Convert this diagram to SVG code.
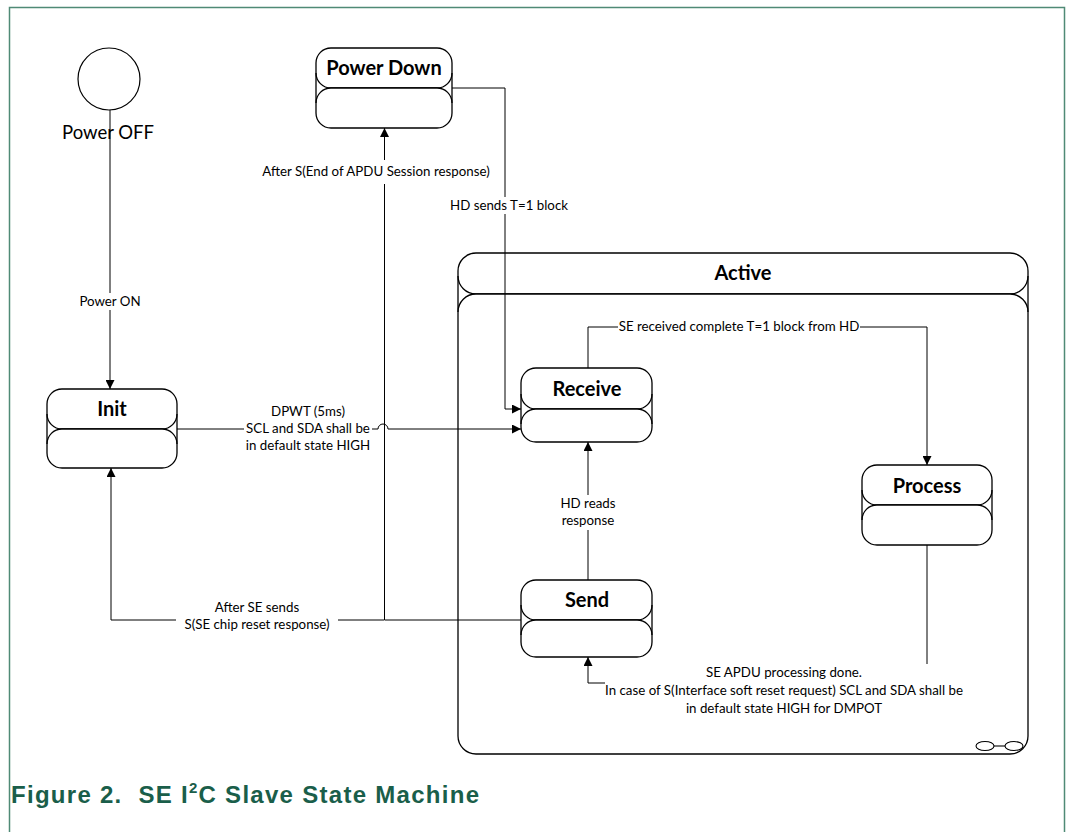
<svg xmlns="http://www.w3.org/2000/svg" width="1068" height="832" viewBox="0 0 1068 832">
<style>
.st{fill:#fff;stroke:#000;stroke-width:1.3}
.side{stroke:#000;stroke-width:1.3;fill:none}
.ttl{font-family:Lato,"Liberation Sans",sans-serif;font-weight:bold;font-size:20px;text-anchor:middle;fill:#000}
.c{fill:none;stroke:#000;stroke-width:1}
.lbl{font-family:Lato,"Liberation Sans",sans-serif;font-size:13.3px;text-anchor:middle;fill:#000}
.bg{fill:#fff;stroke:none}
</style>
<defs>
<marker id="ah" markerUnits="userSpaceOnUse" markerWidth="10" markerHeight="9" refX="9" refY="4.5" orient="auto">
<path d="M0,0 L9,4.5 L0,9 z" fill="#000"/>
</marker>
</defs>
<rect x="0" y="0" width="1068" height="832" fill="#fff"/>
<g id="frame">
<path d="M9.5,832 V7.5 H1064.5 V832" fill="none" stroke="#4f8a76" stroke-width="1.5"/>
</g>
<g id="powerOff">
<circle cx="109" cy="79" r="31" fill="#fff" stroke="#000" stroke-width="1.2"/>
<text x="108" y="139" style="font-family:Lato,'Liberation Sans',sans-serif;font-size:18.5px;text-anchor:middle">Power OFF</text>
</g>
<g id="active">
<rect class="st" x="458" y="253" width="570" height="41" rx="18"/>
<rect class="st" x="458" y="294" width="570" height="460" rx="18"/>
<path class="side" d="M458,276 V312 M1028,276 V312"/>
<text class="ttl" x="743" y="280">Active</text>
<ellipse cx="985" cy="746" rx="9" ry="4.5" fill="#fff" stroke="#000" stroke-width="1.1"/>
<ellipse cx="1014" cy="746" rx="9" ry="4.5" fill="#fff" stroke="#000" stroke-width="1.1"/>
<path d="M994,746 H1005" stroke="#000" stroke-width="1.1"/>
</g>
<g id="powerDown">
<rect class="st" x="316" y="48" width="136" height="40" rx="15"/>
<rect class="st" x="316" y="88" width="136" height="40" rx="15"/>
<path class="side" d="M316,73 V103 M452,73 V103"/>
<text class="ttl" x="384" y="75">Power Down</text>
</g>
<g id="init">
<rect class="st" x="47" y="389" width="130" height="40" rx="15"/>
<rect class="st" x="47" y="429" width="130" height="39" rx="15"/>
<path class="side" d="M47,414 V444 M177,414 V444"/>
<text class="ttl" x="112" y="416">Init</text>
</g>
<g id="receive">
<rect class="st" x="521" y="368" width="131" height="41" rx="15"/>
<rect class="st" x="521" y="409" width="131" height="33" rx="15"/>
<path class="side" d="M521,394 V424 M652,394 V424"/>
<text class="ttl" x="587" y="396">Receive</text>
</g>
<g id="process">
<rect class="st" x="862" y="465" width="130" height="40" rx="15"/>
<rect class="st" x="862" y="505" width="130" height="40" rx="15"/>
<path class="side" d="M862,490 V520 M992,490 V520"/>
<text class="ttl" x="927" y="493">Process</text>
</g>
<g id="send">
<rect class="st" x="521" y="580" width="131" height="40" rx="15"/>
<rect class="st" x="521" y="620" width="131" height="37" rx="15"/>
<path class="side" d="M521,605 V635 M652,605 V635"/>
<text class="ttl" x="587" y="607">Send</text>
</g>
<g id="connectors">
<path class="c" d="M110,110 V389" marker-end="url(#ah)"/>
<rect class="bg" x="76" y="293" width="68" height="17"/>
<text class="lbl" x="110" y="306">Power ON</text>

<path class="c" d="M177,429 H378 a5,5 0 0 1 10,0 H521" marker-end="url(#ah)"/>
<rect class="bg" x="244" y="403" width="128" height="51"/>
<text class="lbl" x="308" y="416">DPWT (5ms)</text>
<text class="lbl" x="308" y="433">SCL and SDA shall be</text>
<text class="lbl" x="308" y="450">in default state HIGH</text>

<path class="c" d="M452,88 H505 V409 H521" marker-end="url(#ah)"/>
<rect class="bg" x="446" y="197" width="126" height="17"/>
<text class="lbl" x="509" y="210">HD sends T=1 block</text>

<path class="c" d="M521,620 H384.5 V128" marker-end="url(#ah)"/>
<rect class="bg" x="254" y="160" width="244" height="24"/>
<text class="lbl" x="376" y="176">After S(End of APDU Session response)</text>

<path class="c" d="M384,620 H111 V468" marker-end="url(#ah)"/>
<rect class="bg" x="176" y="599" width="162" height="35"/>
<text class="lbl" x="257" y="612">After SE sends</text>
<text class="lbl" x="257" y="629">S(SE chip reset response)</text>

<path class="c" d="M588,580 V442" marker-end="url(#ah)"/>
<rect class="bg" x="556" y="495" width="64" height="35"/>
<text class="lbl" x="588" y="508">HD reads</text>
<text class="lbl" x="588" y="525">response</text>

<path class="c" d="M588,368 V327 H927 V465" marker-end="url(#ah)"/>
<rect class="bg" x="618" y="318" width="242" height="17"/>
<text class="lbl" x="739" y="331">SE received complete T=1 block from HD</text>

<path class="c" d="M927,545 V683 H588 V657" marker-end="url(#ah)"/>
<rect class="bg" x="605" y="664" width="358" height="54"/>
<text class="lbl" x="784" y="677">SE APDU processing done.</text>
<text class="lbl" x="784" y="695">In case of S(Interface soft reset request) SCL and SDA shall be</text>
<text class="lbl" x="784" y="713">in default state HIGH for DMPOT</text>
</g>
<g id="caption">
<text x="11" y="803" textLength="468" lengthAdjust="spacing" style="font-family:'Liberation Sans',Arial,sans-serif;font-weight:bold;font-size:24px;fill:#1a5e4a" xml:space="preserve">Figure 2.  SE I<tspan font-size="15" dy="-10">2</tspan><tspan dy="10">C Slave State Machine</tspan></text>
</g>
</svg>
